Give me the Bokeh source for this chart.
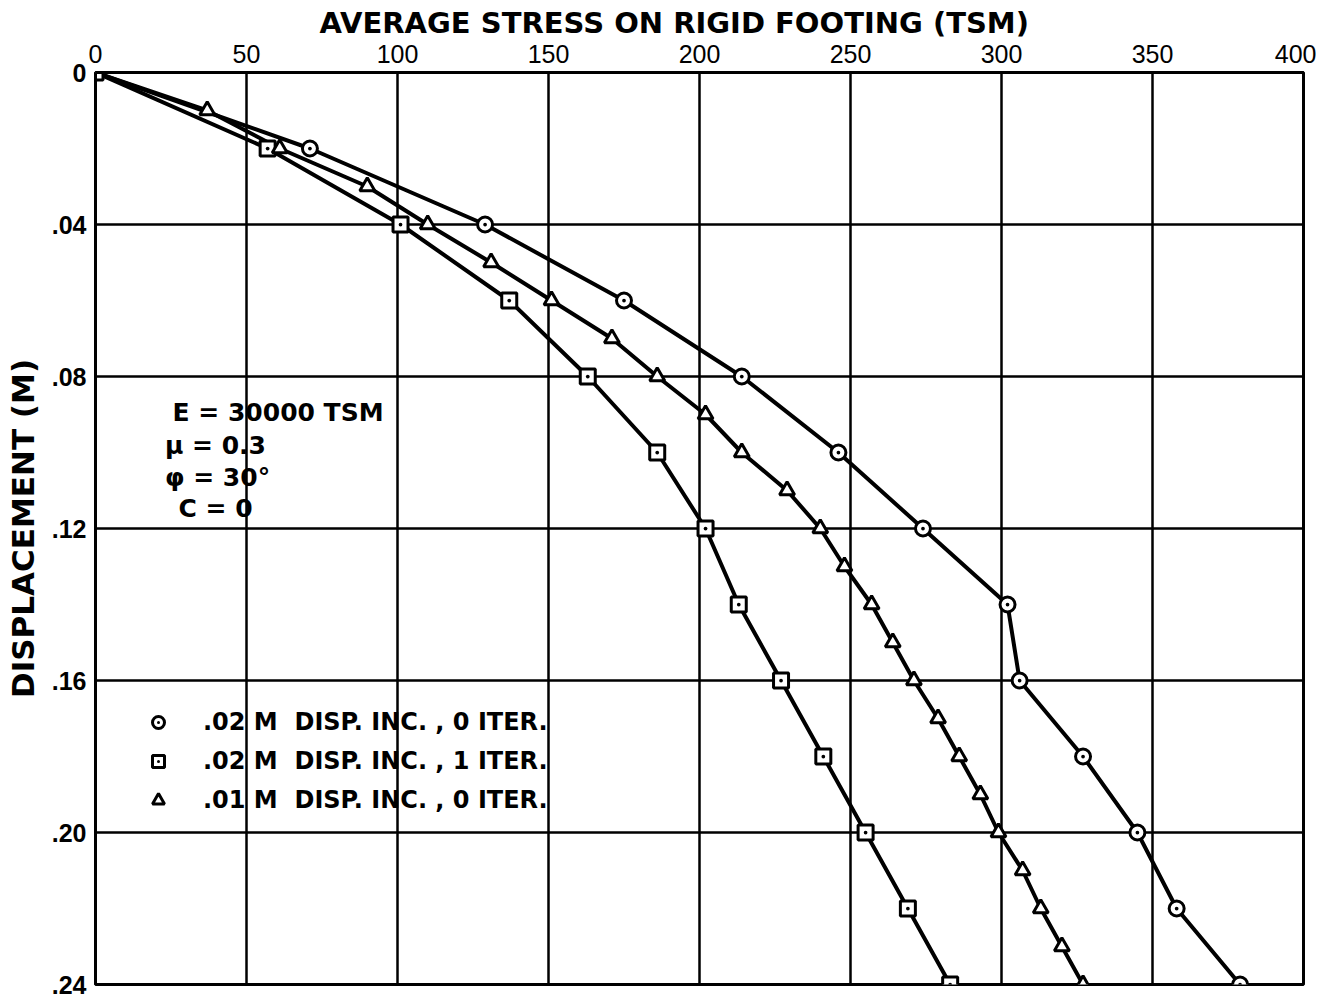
from bokeh.plotting import figure
from bokeh.models import (Range1d, FixedTicker, Legend, LegendItem, ColumnDataSource)
from bokeh.core.properties import value
from bokeh.embed import file_html
from bokeh.resources import INLINE

# ---- data ----
disp_02 = [0.0, 0.02, 0.04, 0.06, 0.08, 0.10, 0.12, 0.14, 0.16, 0.18, 0.20, 0.22, 0.24]
stress_circle = [0, 71, 129, 175, 214, 246, 274, 302, 306, 327, 345, 358, 379]
stress_square = [0, 57, 101, 137, 163, 186, 202, 213, 227, 241, 255, 269, 283]
disp_01 = [0.0, 0.01, 0.02, 0.03, 0.04, 0.05, 0.06, 0.07, 0.08, 0.09, 0.10, 0.11, 0.12,
           0.13, 0.14, 0.15, 0.16, 0.17, 0.18, 0.19, 0.20, 0.21, 0.22, 0.23, 0.24]
stress_triangle = [0, 37, 61, 90, 110, 131, 151, 171, 186, 202, 214, 229, 240,
                   248, 257, 264, 271, 279, 286, 293, 299, 307, 313, 320, 327]

legend_labels = [".02 M  DISP. INC. , 0 ITER.",
                 ".02 M  DISP. INC. , 1 ITER.",
                 ".01 M  DISP. INC. , 0 ITER."]

x_ticks = [0, 50, 100, 150, 200, 250, 300, 350, 400]
y_ticks = [0.0, 0.04, 0.08, 0.12, 0.16, 0.20, 0.24]
y_tick_labels = ["0", ".04", ".08", ".12", ".16", ".20", ".24"]

param_text = ["E = 30000 TSM", "\u03bc = 0.3", "\u03c6 = 30\u00b0", "C = 0"]
param_x = [25.5, 23.0, 23.0, 27.5]
param_y = [0.0896, 0.0982, 0.1066, 0.1147]

BOLD_FONT = "DejaVu Sans"
TICK_FONT = "Liberation Sans"

p = figure(width=1316, height=999, output_backend="svg", toolbar_location=None,
           x_range=Range1d(0, 400), y_range=Range1d(0.24, 0.0),
           x_axis_location="above", y_axis_location="left",
           min_border_left=95, min_border_right=13, min_border_top=72,
           min_border_bottom=15)

p.background_fill_color = "white"
p.border_fill_color = "white"
p.outline_line_color = "black"
p.outline_line_width = 3

# axes
xa = p.xaxis[0]
xa.ticker = FixedTicker(ticks=x_ticks)
xa.axis_label = "AVERAGE  STRESS  ON  RIGID  FOOTING  (TSM)"
ya = p.yaxis[0]
ya.ticker = FixedTicker(ticks=y_ticks)
ya.major_label_overrides = {t: l for t, l in zip(y_ticks, y_tick_labels)}
ya.axis_label = "DISPLACEMENT (M)"

for ax in (xa, ya):
    ax.axis_line_color = "black"
    ax.axis_line_width = 3
    ax.major_tick_line_color = None
    ax.minor_tick_line_color = None
    ax.major_label_text_font = TICK_FONT
    ax.major_label_text_color = "black"
    ax.axis_label_text_font = BOLD_FONT
    ax.axis_label_text_font_style = "bold"
    ax.axis_label_text_color = "black"

xa.major_label_text_font_size = "25px"
xa.major_label_standoff = 4
xa.axis_label_text_font_size = "29px"
xa.axis_label_standoff = 2

ya.major_label_text_font_size = "25px"
ya.major_label_text_font_style = "bold"
ya.major_label_standoff = 3
ya.axis_label_text_font_size = "31px"
ya.axis_label_standoff = 8

# grid
p.xgrid.ticker = FixedTicker(ticks=x_ticks)
p.ygrid.ticker = FixedTicker(ticks=y_ticks)
for g in (p.xgrid[0], p.ygrid[0]):
    g.grid_line_color = "black"
    g.grid_line_width = 2.5
    g.grid_line_alpha = 1.0

# data lines
LW = 4
p.line(stress_circle, disp_02, line_color="black", line_width=LW)
p.line(stress_square, disp_02, line_color="black", line_width=LW)
p.line(stress_triangle, disp_01, line_color="black", line_width=LW)

r_c = p.scatter(stress_circle, disp_02, marker="circle_dot", size=15,
                fill_color="white", line_color="black", line_width=3)
r_s = p.scatter(stress_square, disp_02, marker="square_dot", size=15,
                fill_color="white", line_color="black", line_width=3)
r_t = p.scatter(stress_triangle[1:], disp_01[1:], marker="triangle", size=15,
                fill_color="white", line_color="black", line_width=3)

# parameter block
src = ColumnDataSource(dict(x=param_x, y=param_y, t=param_text))
p.text(x="x", y="y", text="t", source=src, text_font=value(BOLD_FONT),
       text_font_style="bold", text_font_size="25px", text_color="black",
       text_baseline="middle", text_align="left")

legend = Legend(items=[LegendItem(label=legend_labels[0], renderers=[r_c]),
                       LegendItem(label=legend_labels[1], renderers=[r_s]),
                       LegendItem(label=legend_labels[2], renderers=[r_t])],
                location=(48, 166), border_line_color=None,
                background_fill_alpha=0, padding=0, margin=0, spacing=3,
                glyph_width=30, glyph_height=36, label_height=36,
                label_standoff=30, label_text_font=BOLD_FONT,
                label_text_font_style="bold", label_text_font_size="24px",
                label_text_color="black")
p.add_layout(legend)

open("out.html", "w").write(file_html(p, INLINE))
